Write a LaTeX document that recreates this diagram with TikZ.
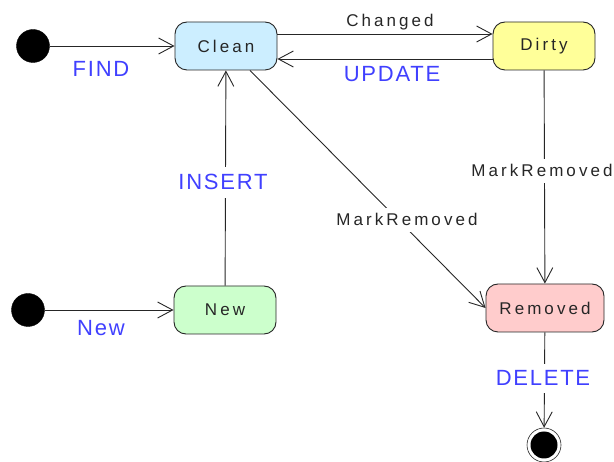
\documentclass[tikz,border=0pt]{standalone}
\usepackage{fontspec}
\setmainfont{Liberation Sans}
\newfontfamily\statefont[LetterSpace=18]{Liberation Sans}
\newfontfamily\actfont[LetterSpace=8]{Liberation Sans}
\usetikzlibrary{arrows.meta}
\definecolor{actBlue}{RGB}{64,64,255}
\definecolor{cleanFill}{RGB}{204,238,255}
\definecolor{dirtyFill}{RGB}{255,255,153}
\definecolor{newFill}{RGB}{204,255,204}
\definecolor{removedFill}{RGB}{255,204,204}
\begin{document}
\begin{tikzpicture}
[x=1pt,y=-1pt,%
  lineDecorate/.style={-{Straight Barb[length=15pt,width=16pt]},line width=0.9pt,draw=black!85},%
  stateDecorate/.style={rectangle,rounded corners=12pt,draw=black!85,line width=0.9pt,minimum width=102pt,minimum height=48pt,text=black!85,font={\statefont\fontsize{17}{20}\selectfont}},%
  initDecorate/.style={circle,fill=black,draw=black,minimum size=33pt,inner sep=0pt},%
  actDecorate/.style={anchor=base,text=actBlue,font={\actfont\fontsize{22}{26}\selectfont}},%
  markDecorate/.style={anchor=base,text=black!85,font={\statefont\fontsize{17}{20}\selectfont}}]
\useasboundingbox (0,0) rectangle (614,462);
%% states
\node[stateDecorate,fill=cleanFill] (clean) at (226,46) {Clean};
\node[stateDecorate,fill=dirtyFill] (dirty) at (544,46) {Dirty};
\node[stateDecorate,fill=newFill] (new) at (225,310) {New};
\node[stateDecorate,fill=removedFill,minimum width=118pt] (removed) at (545,308) {Removed};
%% initial and final states
\foreach \nodename/\x/\y in {findStart/33/46, newStart/28/310}
{
  \node[initDecorate] (\nodename) at (\x,\y) {};
}
\node[circle,draw=black!85,line width=0.6pt,minimum size=34pt,inner sep=0pt] (final) at (544,445) {};
\node[circle,fill=black,minimum size=27pt,inner sep=0pt] (finalDot) at (final) {};
%% transitions
\draw[lineDecorate] (findStart) -- (clean);
\draw[lineDecorate] (newStart) -- (new);
\draw[lineDecorate] ([yshift=12pt]clean.east) -- ([yshift=12pt]dirty.west);
\draw[lineDecorate] ([yshift=-13pt]dirty.west) -- ([yshift=-13pt]clean.east);
\draw[lineDecorate] (new) -- (clean);
\draw[lineDecorate] ([xshift=24pt]clean.south) -- (removed.west);
\draw[lineDecorate] (dirty) -- (removed);
\draw[lineDecorate] (removed) -- (final);
%% transition labels
\node[actDecorate] (findLabel) at (101,77) {FIND};
\node[actDecorate] (newLabel) at (101,336) {New};
\node[markDecorate] (changedLabel) at (390,27) {Changed};
\node[actDecorate] (updateLabel) at (392,82) {UPDATE};
\node[actDecorate,fill=white,inner sep=8pt] (insertLabel) at (223,190) {INSERT};
\node[markDecorate,fill=white,inner sep=6pt] (markDiagLabel) at (407,226) {MarkRemoved};
\node[markDecorate,fill=white,inner sep=6pt] (markDirtyLabel) at (542,177) {MarkRemoved};
\node[actDecorate,fill=white,inner sep=7pt] (deleteLabel) at (543,386) {DELETE};
\end{tikzpicture}
\end{document}
